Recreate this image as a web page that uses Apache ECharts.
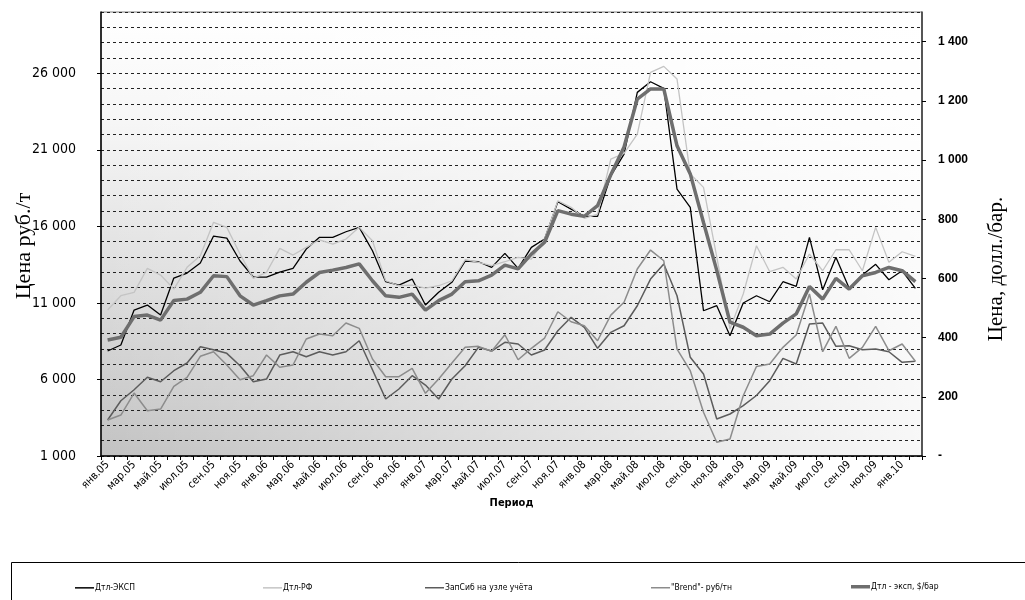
<!DOCTYPE html>
<html>
<head>
<meta charset="utf-8">
<script src="https://cdn.jsdelivr.net/npm/echarts@6/dist/echarts.min.js"></script>
<style>html,body{margin:0;padding:0;background:#fff}#c{width:1025px;height:600px}</style>
</head>
<body>
<div id="c"></div>
<script>
// ---- data ----
const monthNames = ['янв','фев','мар','апр','май','июн','июл','авг','сен','окт','ноя','дек'];
const years = ['05','06','07','08','09','10'];
const monthCount = 62;
const categories = [];
for (let i = 0; i < monthCount; i++) {
  categories.push(monthNames[i % 12] + '.' + years[Math.floor(i / 12)]);
}

const seriesNames = ['Дтл-ЭКСП', 'Дтл-РФ', 'ЗапСиб на узле учёта', '"Brend"- руб/тн', 'Дтл - эксп, $/бар'];

const dtlExp = [7857, 8248, 10534, 10860, 10207, 12623, 12950, 13603, 15366, 15235, 13734, 12689, 12689,
  13015, 13257, 14517, 15281, 15281, 15647, 15934, 14406, 12382, 12166, 12558, 10860, 11700,
  12343, 13734, 13688, 13322, 14236, 13257, 14628, 15170, 17606, 17129, 16652, 16652, 19300,
  20721, 24750, 25442, 25011, 18435, 17240, 10488, 10815, 8856, 10991, 11468,
  11076, 12382, 12081, 15281, 11859, 13975, 11951, 12819, 13518, 12512, 13100, 11951];

const dtlRF = [10534, 11468, 11690, 13257, 12819, 11905, 13322, 14080, 16261, 15934, 14191, 12604, 12996,
  14563, 14125, 14628, 15124, 14844, 15170, 15934, 15059, 12447, 12121, 12166, 11970, 12121,
  12447, 13819, 13649, 13427, 13688, 13975, 13864, 15170, 17671, 17240, 16522, 16803, 20394,
  20766, 22027, 26056, 26447, 25618, 19415, 18546, 14000, 9293, 11579, 14733,
  13035, 13322, 12558, 14191, 13100, 14471, 14471, 13100, 15934, 13649, 14341, 14040];

const zapSib = [3351, 4611, 5329, 6139, 5852, 6570, 7073, 8137, 7941, 7706, 6897, 5852, 6028,
  7595, 7811, 7484, 7811, 7595, 7811, 8529, 6635, 4722, 5375, 6244, 5636, 4722,
  6028, 6897, 8098, 7857, 8425, 8314, 7595, 7922, 9182, 10057, 9404, 8033, 9078,
  9509, 10815, 12558, 13538, 11468, 7445, 6355, 3416, 3743, 4285, 4950,
  5917, 7380, 7008, 9620, 9685, 8163, 8203, 7941, 7987, 7811, 7118, 7184];

const brent = [3351, 3677, 5114, 3958, 4069, 5551, 6139, 7510, 7811, 6942, 5982, 6244, 7595,
  6792, 6942, 8640, 8967, 8856, 9685, 9339, 7334, 6178, 6178, 6727, 5094, 6028,
  7073, 8098, 8163, 7837, 8921, 7288, 8033, 8705, 10423, 9770, 9509, 8529, 10200,
  11037, 13211, 14452, 13753, 7987, 6570, 3854, 1895, 2110, 4938, 6850,
  7008, 8098, 8901, 11579, 7811, 9469, 7380, 8098, 9469, 7876, 8314, 7184];

const dtlExpUsd = [392, 401, 471, 476, 459, 525, 530, 553, 609, 606, 541, 510, 525,
  541, 547, 587, 620, 628, 637, 649, 592, 541, 536, 547, 493, 525,
  547, 589, 592, 611, 645, 632, 682, 722, 829, 817, 810, 846, 950,
  1044, 1206, 1240, 1240, 1048, 953, 789, 627, 452, 435, 406,
  412, 449, 480, 573, 530, 600, 564, 609, 620, 637, 626, 589];

const leftTicks = [1000, 6000, 11000, 16000, 21000, 26000];
const rightTicks = [0, 200, 400, 600, 800, 1000, 1200, 1400];

// ---- chart ----
const narrow = '"Liberation Sans Narrow", "Arial Narrow", "DejaVu Sans Condensed", "Liberation Sans", sans-serif';
const serif = '"Liberation Serif", "Times New Roman", serif';
const fmt = v => String(v).replace(/\B(?=(\d{3})+(?!\d))/g, ' ');

const G = {x: 101, y: 12, w: 821, h: 444};

const chart = echarts.init(document.getElementById('c'));

const seriesColors = ['#000000', '#c4c4c4', '#5c5c5c', '#8c8c8c', '#6e6e6e'];
const seriesWidths = [1.3, 1.3, 1.5, 1.5, 3.5];

const lineSeries = (i, data, axis) => ({
  name: seriesNames[i], type: 'line', data, yAxisIndex: axis, symbol: 'none', showSymbol: false,
  lineStyle: {color: seriesColors[i], width: seriesWidths[i]}, itemStyle: {color: seriesColors[i]},
  emphasis: {disabled: true}, animation: false
});

const legendX = [75, 263, 425, 651, 851];

chart.setOption({
  animation: false,
  backgroundColor: '#ffffff',
  grid: {left: G.x, top: G.y, width: G.w, height: G.h, show: true, backgroundColor: 'transparent',
    borderColor: '#808080', borderWidth: 1, containLabel: false, outerBoundsMode: 'none'},
  graphic: [
    {type: 'rect', z: -2, silent: true, shape: {x: G.x, y: G.y, width: G.w, height: G.h},
      style: {fill: {type: 'linear', x: 0, y: 0, x2: 0, y2: 1, colorStops: [
        {offset: 0, color: '#ffffff'}, {offset: 0.25, color: '#f6f6f6'}, {offset: 1, color: '#c2c2c2'}]}}},
    {type: 'rect', z: -1, silent: true, shape: {x: G.x, y: G.y, width: G.w, height: G.h},
      style: {fill: {type: 'linear', x: 0, y: 0, x2: 1, y2: 0, colorStops: [
        {offset: 0, color: 'rgba(255,255,255,0)'}, {offset: 1, color: 'rgba(255,255,255,0.88)'}]}}},
    {type: 'rect', z: 10, silent: true, shape: {x: 11.5, y: 562.5, width: 1040, height: 60},
      style: {fill: 'none', stroke: '#000', lineWidth: 1}}
  ],
  legend: seriesNames.map((n, i) => ({
    data: [n], left: legendX[i], top: 585 - seriesWidths[i] / 2 - 1, icon: 'rect',
    itemWidth: 19, itemHeight: Math.max(1.5, seriesWidths[i]), padding: 0,
    itemStyle: {color: seriesColors[i], borderWidth: 0},
    selectedMode: false,
    textStyle: {fontFamily: narrow, fontSize: 8.5, color: '#000', padding: [0, 0, 0, -4]}
  })),
  xAxis: {
    type: 'category', data: categories, boundaryGap: true,
    axisLine: {lineStyle: {color: '#000', width: 1.5}},
    axisTick: {show: true, interval: 0, length: 4, lineStyle: {color: '#000'}},
    axisLabel: {interval: 1, rotate: 45, fontSize: 11, margin: 7, color: '#000', fontFamily: narrow},
    splitLine: {show: false},
    name: 'Период', nameLocation: 'middle', nameGap: 42, nameMoveOverlap: false,
    nameTextStyle: {fontWeight: 'bold', fontSize: 11, color: '#000', fontFamily: narrow}
  },
  yAxis: [
    {
      type: 'value', position: 'left', min: 1000, max: 30000, interval: 1000,
      name: 'Цена руб./т', nameLocation: 'middle', nameGap: 66, nameRotate: 90, nameMoveOverlap: false,
      nameTextStyle: {fontFamily: serif, fontSize: 22, color: '#000', padding: [0, 24, 0, 0]},
      axisLine: {show: true, lineStyle: {color: '#000', width: 1.5}},
      axisTick: {show: true, customValues: leftTicks, length: 4, lineStyle: {color: '#000'}},
      axisLabel: {customValues: leftTicks, formatter: fmt, margin: 25, fontSize: 14, color: '#000', fontFamily: narrow},
      splitLine: {show: false}
    },
    {
      type: 'value', position: 'right', min: 0, max: 1500, interval: 100,
      name: 'Цена, долл./бар.', nameLocation: 'middle', nameGap: 64, nameRotate: 90, nameMoveOverlap: false,
      nameTextStyle: {fontFamily: serif, fontSize: 21, color: '#000', padding: [0, 70, 0, 0]},
      axisLine: {show: true, lineStyle: {color: '#333', width: 1.5}},
      axisTick: {show: true, customValues: rightTicks, length: 4, lineStyle: {color: '#000'}},
      axisLabel: {customValues: rightTicks, formatter: v => v === 0 ? '-' : fmt(v), margin: 16,
        fontSize: 12, fontWeight: 'bold', color: '#000', fontFamily: '"Liberation Sans", Arial, sans-serif'},
      splitLine: {show: false}
    },
    {
      type: 'value', position: 'left', min: 1000, max: 30000, interval: 1000,
      axisLine: {show: false}, axisTick: {show: false}, axisLabel: {show: false},
      splitLine: {show: true, lineStyle: {color: '#222', width: 1, type: [3, 3]}}
    }
  ],
  series: [
    lineSeries(0, dtlExp, 0),
    lineSeries(1, dtlRF, 0),
    lineSeries(2, zapSib, 0),
    lineSeries(3, brent, 0),
    lineSeries(4, dtlExpUsd, 1)
  ]
});
</script>
</body>
</html>
